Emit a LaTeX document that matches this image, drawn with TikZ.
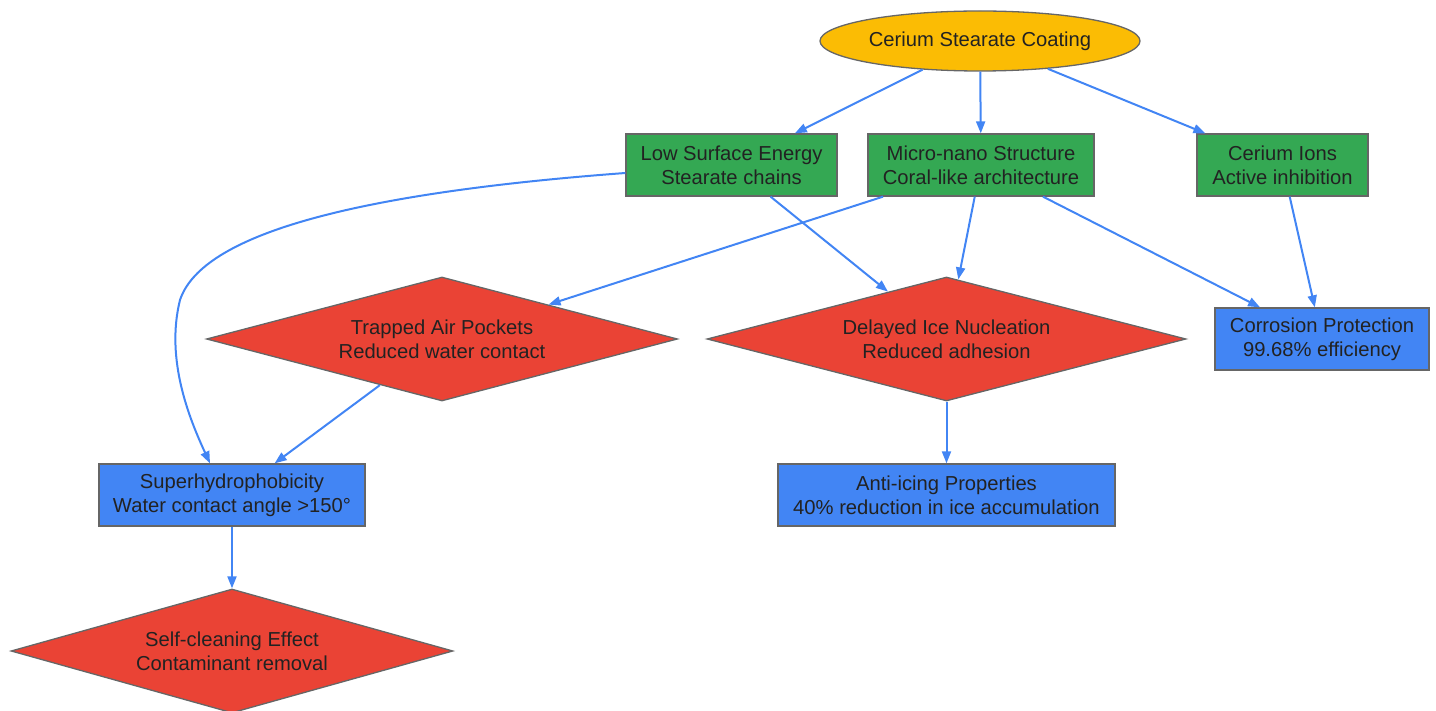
\documentclass[tikz,border=0pt]{standalone}
\usepackage{fontspec}
\setmainfont{Liberation Sans}
\usetikzlibrary{shapes.geometric,arrows.meta}
\definecolor{gorange}{HTML}{FBBC04}
\definecolor{ggreen}{HTML}{34A853}
\definecolor{gred}{HTML}{EA4335}
\definecolor{gblue}{HTML}{4285F4}
\definecolor{gborder}{HTML}{666666}
\definecolor{gtext}{HTML}{222222}
\tikzset{
  base/.style={draw=gborder, line width=1.3pt, text=gtext, inner sep=0pt, align=center,
    font=\fontsize{20.2}{24}\selectfont},
  ellnode/.style={base, ellipse, fill=gorange, minimum width=320pt, minimum height=60pt},
  greenbox/.style={base, rectangle, fill=ggreen, minimum height=62pt},
  bluebox/.style={base, rectangle, fill=gblue, minimum height=62pt},
  reddia/.style={base, diamond, aspect=3.8, fill=gred, minimum height=124pt},
  conn/.style={draw=gblue, line width=2pt, -{Triangle[length=12pt,width=9pt]}}
}
\begin{document}
\begin{tikzpicture}[x=1pt,y=-1pt]
\useasboundingbox (0,0) rectangle (1436,711);
\node[ellnode] (root) at (980,41) {Cerium Stearate Coating};
\node[greenbox, minimum width=211pt] (lse) at (731.5,165) {Low Surface Energy\\Stearate chains};
\node[greenbox, minimum width=226pt] (mns) at (981,165) {Micro-nano Structure\\Coral-like architecture};
\node[greenbox, minimum width=171pt] (ions) at (1282.5,165) {Cerium Ions\\Active inhibition};
\node[reddia, minimum width=471pt] (air) at (442,339) {Trapped Air Pockets\\Reduced water contact};
\node[reddia, minimum width=479pt] (ice) at (946.5,339) {Delayed Ice Nucleation\\Reduced adhesion};
\node[bluebox, minimum width=214pt] (corr) at (1322,339) {Corrosion Protection\\99.68\% efficiency};
\node[bluebox, minimum width=266pt] (sh) at (232,495) {Superhydrophobicity\\Water contact angle >150°};
\node[bluebox, minimum width=337pt] (anti) at (946.5,495) {Anti-icing Properties\\40\% reduction in ice accumulation};
\node[reddia, minimum width=442pt] (self) at (232,651) {Self-cleaning Effect\\Contaminant removal};

\draw[conn] (root) -- (lse);
\draw[conn] (root) -- (mns);
\draw[conn] (root) -- (ions);
\draw[conn] ([yshift=-8pt]lse.west) .. controls (330,195) and (200,240) .. (180,300)
  .. controls (165,360) and (190,420) .. ([xshift=-22pt]sh.north);
\draw[conn] (lse) -- (ice);
\draw[conn] (mns) -- (air);
\draw[conn] (mns) -- (ice);
\draw[conn] (mns) -- (corr);
\draw[conn] (ions) -- (corr);
\draw[conn] (air) -- (sh);
\draw[conn] (ice) -- (anti);
\draw[conn] (sh) -- (self);
\end{tikzpicture}
\end{document}
